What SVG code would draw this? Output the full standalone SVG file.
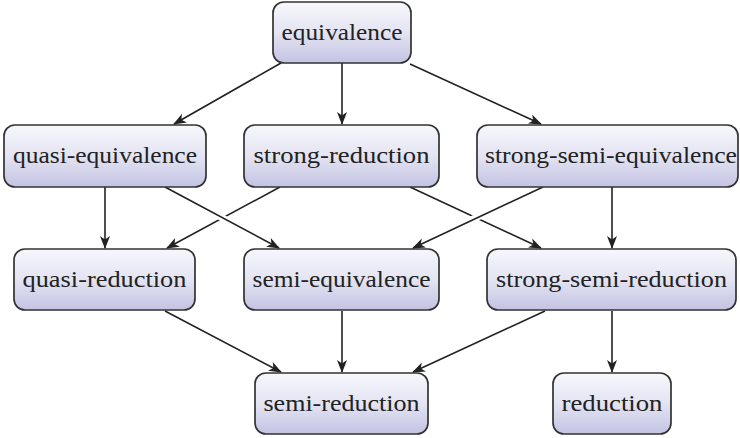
<svg xmlns="http://www.w3.org/2000/svg" width="740" height="438" viewBox="0 0 740 438">
<defs>
<linearGradient id="g" x1="0" y1="0" x2="0" y2="1">
<stop offset="0" stop-color="#f7f7fc"/>
<stop offset="0.5" stop-color="#e4e4f3"/>
<stop offset="1" stop-color="#c3c3e3"/>
</linearGradient>
<marker id="ah" viewBox="0 0 13 11" refX="12" refY="5.5" markerWidth="13" markerHeight="11" markerUnits="userSpaceOnUse" orient="auto">
<path d="M0,0.5 L13,5.5 L0,10.5 L3.5,5.5 Z" fill="#222"/>
</marker>
<style>
.box{fill:url(#g);stroke:#333;stroke-width:1.7}
.t{font-family:"Liberation Serif","Times New Roman",serif;font-size:23px;fill:#222;text-anchor:middle}
.e{stroke:#222;stroke-width:1.6;fill:none;marker-end:url(#ah)}
.halo{stroke:#fff;stroke-width:7;fill:none}
</style>
</defs>
<rect width="740" height="438" fill="#fff"/>
<g id="connectors">
<line class="e" x1="281" y1="63" x2="174" y2="124"/>
<line class="e" x1="342" y1="63" x2="342" y2="124"/>
<line class="e" x1="410" y1="64" x2="541" y2="124"/>
<line class="e" x1="105" y1="187" x2="105" y2="248"/>
<line class="e" x1="280" y1="187" x2="167" y2="248"/>
<line class="halo" x1="180" y1="195" x2="265" y2="241"/>
<line class="e" x1="165" y1="187" x2="279" y2="248"/>
<line class="e" x1="410" y1="187" x2="541" y2="248"/>
<line class="halo" x1="530" y1="193" x2="425" y2="241"/>
<line class="e" x1="543" y1="187" x2="413" y2="248"/>
<line class="e" x1="612" y1="187" x2="612" y2="248"/>
<line class="e" x1="165" y1="311" x2="281" y2="372"/>
<line class="e" x1="342" y1="311" x2="342" y2="372"/>
<line class="e" x1="545" y1="311" x2="413" y2="372"/>
<line class="e" x1="612" y1="311" x2="612" y2="372"/>
</g>
<g id="equivalence"><rect class="box" x="273" y="2" width="138" height="61" rx="11"/><text class="t" x="342" y="39.5" textLength="121" lengthAdjust="spacingAndGlyphs">equivalence</text></g>
<g id="quasi-equivalence"><rect class="box" x="4" y="125" width="202" height="62" rx="11"/><text class="t" x="105" y="163" textLength="184" lengthAdjust="spacingAndGlyphs">quasi-equivalence</text></g>
<g id="strong-reduction"><rect class="box" x="244" y="125" width="195" height="62" rx="11"/><text class="t" x="341.5" y="163" textLength="176" lengthAdjust="spacingAndGlyphs">strong-reduction</text></g>
<g id="strong-semi-equivalence"><rect class="box" x="477" y="125" width="261" height="62" rx="11"/><text class="t" x="611" y="163" textLength="252" lengthAdjust="spacingAndGlyphs">strong-semi-equivalence</text></g>
<g id="quasi-reduction"><rect class="box" x="14" y="249" width="181" height="61" rx="11"/><text class="t" x="104.5" y="287" textLength="164" lengthAdjust="spacingAndGlyphs">quasi-reduction</text></g>
<g id="semi-equivalence"><rect class="box" x="244" y="249" width="195" height="61" rx="11"/><text class="t" x="341.5" y="287" textLength="178" lengthAdjust="spacingAndGlyphs">semi-equivalence</text></g>
<g id="strong-semi-reduction"><rect class="box" x="487" y="249" width="249" height="61" rx="11"/><text class="t" x="611.5" y="287" textLength="231" lengthAdjust="spacingAndGlyphs">strong-semi-reduction</text></g>
<g id="semi-reduction"><rect class="box" x="255" y="373" width="173" height="61" rx="11"/><text class="t" x="341.5" y="411" textLength="156" lengthAdjust="spacingAndGlyphs">semi-reduction</text></g>
<g id="reduction"><rect class="box" x="553" y="373" width="118" height="61" rx="11"/><text class="t" x="612" y="411" textLength="101" lengthAdjust="spacingAndGlyphs">reduction</text></g>
</svg>
